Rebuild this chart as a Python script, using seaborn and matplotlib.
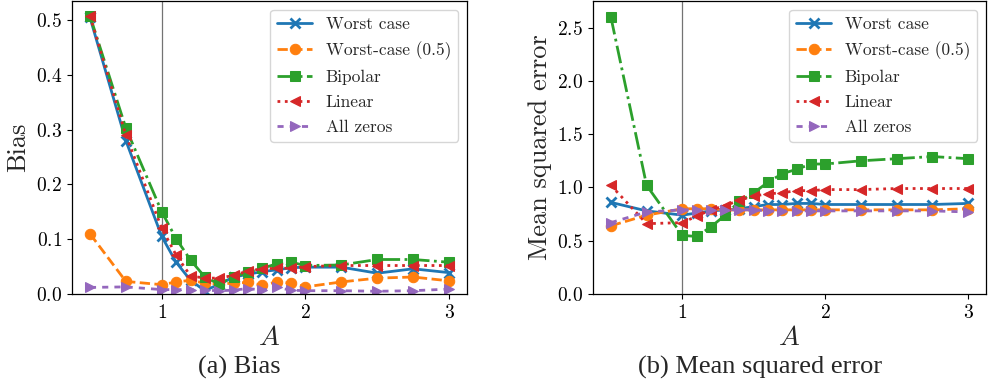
import numpy as np
import pandas as pd
import matplotlib
matplotlib.use("Agg")
import matplotlib.pyplot as plt
import seaborn as sns

A_values = [0.5, 0.75, 1.0, 1.1, 1.2, 1.3, 1.4, 1.5, 1.6, 1.7, 1.8, 1.9, 2.0, 2.25, 2.5, 2.75, 3.0]

bias_worst = [0.505, 0.28, 0.105, 0.058, 0.025, 0.006, 0.018, 0.031, 0.036, 0.041, 0.044, 0.048, 0.049, 0.049, 0.038, 0.046, 0.039]
bias_worst05 = [0.11, 0.023, 0.017, 0.022, 0.025, 0.020, 0.018, 0.020, 0.021, 0.016, 0.022, 0.020, 0.013, 0.022, 0.029, 0.031, 0.024]
bias_bipolar = [0.508, 0.303, 0.150, 0.101, 0.062, 0.031, 0.018, 0.031, 0.040, 0.047, 0.055, 0.058, 0.052, 0.053, 0.063, 0.063, 0.058]
bias_linear = [0.508, 0.290, 0.120, 0.071, 0.033, 0.029, 0.029, 0.034, 0.042, 0.046, 0.047, 0.047, 0.050, 0.052, 0.052, 0.052, 0.052]
bias_zeros = [0.012, 0.013, 0.008, 0.008, 0.008, 0.007, 0.006, 0.007, 0.010, 0.007, 0.012, 0.007, 0.006, 0.006, 0.005, 0.006, 0.009]

mse_worst = [0.86, 0.78, 0.74, 0.76, 0.78, 0.79, 0.80, 0.82, 0.84, 0.84, 0.85, 0.85, 0.84, 0.84, 0.84, 0.84, 0.85]
mse_worst05 = [0.64, 0.74, 0.80, 0.80, 0.80, 0.79, 0.79, 0.79, 0.79, 0.79, 0.79, 0.79, 0.79, 0.79, 0.79, 0.79, 0.80]
mse_bipolar = [2.60, 1.02, 0.55, 0.54, 0.63, 0.74, 0.87, 0.95, 1.05, 1.13, 1.17, 1.22, 1.22, 1.25, 1.27, 1.29, 1.27]
mse_linear = [1.02, 0.66, 0.67, 0.73, 0.79, 0.83, 0.88, 0.92, 0.94, 0.95, 0.97, 0.97, 0.98, 0.98, 0.99, 0.99, 0.99]
mse_zeros = [0.67, 0.77, 0.79, 0.79, 0.79, 0.79, 0.79, 0.79, 0.78, 0.78, 0.78, 0.78, 0.78, 0.78, 0.78, 0.78, 0.77]

series_names = ["Worst case", "Worst-case (0.5)", "Bipolar", "Linear", "All zeros"]

sns.set_style("ticks")
plt.rcParams["font.family"] = ["cmr10", "DejaVu Serif"]
plt.rcParams["mathtext.fontset"] = "cm"
plt.rcParams["axes.formatter.use_mathtext"] = True
plt.rcParams["axes.edgecolor"] = "black"
plt.rcParams["xtick.color"] = "black"
plt.rcParams["ytick.color"] = "black"

palette = sns.color_palette("tab10")
styles = [
    dict(color=palette[0], marker="x", linestyle="-", markeredgewidth=2),
    dict(color=palette[1], marker="o", linestyle="--"),
    dict(color=palette[2], marker="s", linestyle="-."),
    dict(color=palette[3], marker="<", linestyle=":"),
    dict(color=palette[4], marker=">", linestyle=(0, (2.2, 2.2))),
]

fig = plt.figure(figsize=(9.88, 3.89), dpi=100)
ax1 = fig.add_axes([72 / 988, 95 / 389, 395 / 988, 293 / 389])
ax2 = fig.add_axes([593 / 988, 95 / 389, 393 / 988, 293 / 389])

def draw(ax, series, ylabel, ylim, yticks):
    for name, vals, st in zip(series_names, series, styles):
        sns.lineplot(x=A_values, y=vals, ax=ax, label=name, linewidth=2,
                     markersize=7.5, markeredgecolor=st["color"], **st)
    ax.axvline(1.0, color="0.45", linewidth=0.9, zorder=0)
    ax.set_xlim(0.375, 3.125)
    ax.set_ylim(*ylim)
    ax.set_xticks([1, 2, 3])
    ax.set_yticks(yticks)
    ax.tick_params(labelsize=14)
    ax.set_xlabel("$A$", fontsize=20, labelpad=2)
    ax.set_ylabel(ylabel, fontsize=19, labelpad=4)
    for sp in ax.spines.values():
        sp.set_visible(True)
        sp.set_color("black")
        sp.set_linewidth(0.9)
    ax.legend(loc="upper right", fontsize=12.5, labelspacing=0.55, framealpha=0.8,
              borderaxespad=0.5, handlelength=2.0)

draw(ax1, [bias_worst, bias_worst05, bias_bipolar, bias_linear, bias_zeros],
     "Bias", (0, 0.535), [0.0, 0.1, 0.2, 0.3, 0.4, 0.5])
draw(ax2, [mse_worst, mse_worst05, mse_bipolar, mse_linear, mse_zeros],
     "Mean squared error", (0, 2.75), [0.0, 0.5, 1.0, 1.5, 2.0, 2.5])

fig.text(239 / 988, 1 - 367 / 389, "(a) Bias", ha="center", va="center",
         fontsize=19, family="Liberation Serif")
fig.text(760 / 988, 1 - 367 / 389, "(b) Mean squared error", ha="center", va="center",
         fontsize=19, family="Liberation Serif")

fig.savefig("out.png", dpi=100)
